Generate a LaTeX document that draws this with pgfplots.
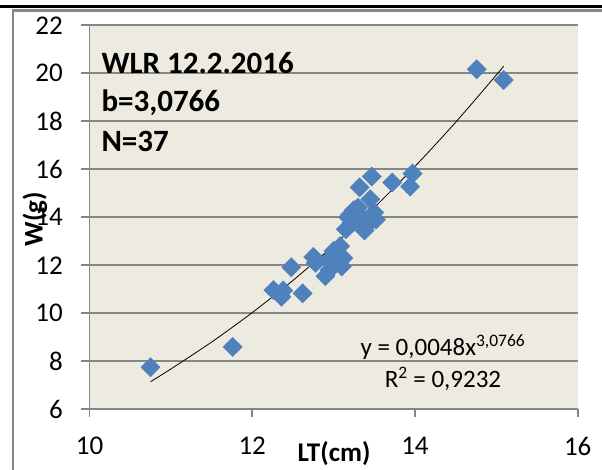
\documentclass[border=0pt]{standalone}
\usepackage{fontspec}
\setmainfont{Carlito}
\usepackage{pgfplots}
\pgfplotsset{compat=1.18}
\definecolor{bgfill}{HTML}{EDEAE0}
\definecolor{gridgray}{HTML}{868686}
\definecolor{markblue}{HTML}{4F81BD}

\begin{document}
\begin{tikzpicture}
\useasboundingbox (0,0) rectangle (602bp,470bp);
\fill[white] (0,0) rectangle (602bp,470bp);
% frame of the figure
\draw[line width=3bp] (0,463bp) -- (602bp,463bp);
\draw[gridgray, line width=2.5bp] (13bp,0) -- (13bp,459.5bp) -- (602bp,459.5bp);
\begin{axis}[
    at={(89.5bp,60.7bp)}, anchor=south west,
    scale only axis, width=488.2bp, height=384bp,
    xmin=10, xmax=16, ymin=6, ymax=22,
    xtick={10,12,...,16}, ytick={6,8,...,22},
    axis background/.style={fill=bgfill},
    axis x line*=bottom, axis y line*=left,
    ymajorgrids,
    grid style={gridgray, line width=1.6bp},
    axis line style={gridgray, line width=1.6bp},
    tick style={gridgray, line width=1.6bp},
    tick align=outside, major tick length=8bp,
    /pgf/number format/assume math mode=true,
    ticklabel style={font=\fontsize{27bp}{27bp}\selectfont, inner sep=0pt},
    yticklabel style={anchor=east, xshift=-18.5bp},
    xticklabel style={anchor=north, yshift=-19.7bp},
    xlabel={LT(cm)}, ylabel={W(g)},
    xlabel style={at={(axis description cs:0.5008,-0.1164)}, anchor=center,
        font=\bfseries\fontsize{27bp}{27bp}\selectfont},
    ylabel style={at={(axis description cs:-0.1116,0.4956)}, anchor=center,
        font=\bfseries\fontsize{27bp}{27bp}\selectfont},
]
\addplot[only marks, mark=square*, mark size=6.8bp,
    mark options={rotate=45, fill=markblue, draw=markblue}] table {
x y
10.75 7.75
11.76 8.60
12.26 10.97
12.36 10.69
12.38 10.95
12.62 10.83
12.48 11.92
12.75 12.35
12.78 12.10
12.90 11.55
12.95 11.80
12.95 12.25
13.00 12.60
13.05 12.20
13.08 12.80
13.10 11.95
13.12 12.30
13.15 13.50
13.18 14.00
13.20 14.10
13.22 13.75
13.25 14.30
13.30 14.40
13.30 13.90
13.32 15.25
13.35 14.00
13.38 13.45
13.42 13.70
13.45 14.75
13.47 15.70
13.50 14.20
13.52 13.90
13.72 15.45
13.94 15.28
13.97 15.82
14.76 20.17
15.09 19.72
};
% power trend line y = 0,0048 x^3,0766
\addplot[black, line width=0.8bp, smooth] table {
x y
10.75 7.15
11.00 7.68
11.50 8.80
12.00 10.03
12.50 11.37
13.00 12.83
13.50 14.41
14.00 16.12
14.50 17.96
15.00 19.93
15.09 20.30
};
\node[anchor=base west, font=\bfseries\fontsize{31bp}{31bp}\selectfont]
    at (axis description cs:0.0174,0.875) {WLR 12.2.2016};
\node[anchor=base west, font=\bfseries\fontsize{31bp}{31bp}\selectfont]
    at (axis description cs:0.0174,0.775) {b=3,0766};
\node[anchor=base west, font=\bfseries\fontsize{31bp}{31bp}\selectfont]
    at (axis description cs:0.0174,0.671) {N=37};
\node[anchor=base, font=\fontsize{25bp}{25bp}\selectfont]
    at (axis description cs:0.724,0.1414) {y = 0,0048x\textsuperscript{3,0766}};
\node[anchor=base, font=\fontsize{25bp}{25bp}\selectfont]
    at (axis description cs:0.724,0.0563) {R\textsuperscript{2} = 0,9232};
\end{axis}
\end{tikzpicture}
\end{document}
